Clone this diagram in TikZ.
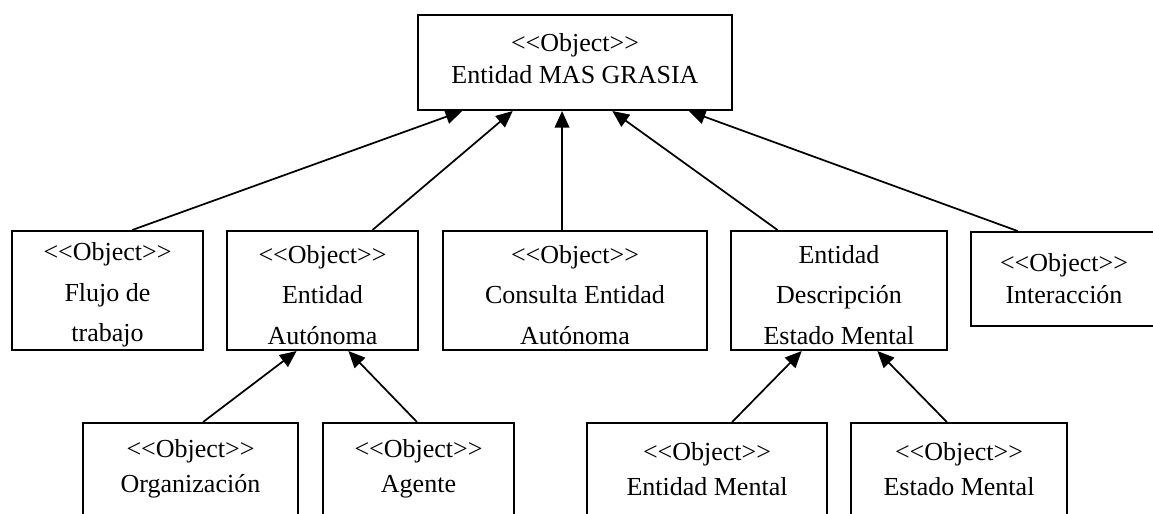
\documentclass[tikz,border=0pt]{standalone}
\usepackage{fontspec}
\setmainfont{Liberation Serif}
\usetikzlibrary{calc,arrows.meta}
\begin{document}
\begin{tikzpicture}[x=0.75pt,y=-0.75pt,
  box/.style={draw, line width=1.5pt, fill=white, align=center, inner sep=0pt},
  txt/.style={font=\fontsize{19.5}{#1}\selectfont},
  gen/.style={line width=1.3pt, -{Triangle[length=12.5pt,width=11pt]}}]
\path[use as bounding box, clip] (0,0) rectangle (1153,514);

% top class
\node[box, txt=24, minimum width=235.5pt, minimum height=71.25pt] (top) at (575,62.5)
  {<{}<Object>{}>\\Entidad MAS GRASIA\rule[-6pt]{0pt}{0pt}};

% second row
\node[box, txt=30.5, minimum width=143.25pt, minimum height=89.25pt] (flujo) at (107.5,290.5)
  {\rule{0pt}{20pt}<{}<Object>{}>\\Flujo de\\trabajo};
\node[box, txt=30.5, minimum width=143.25pt, minimum height=89.25pt] (auto) at (322.5,290.5)
  {\rule{0pt}{20pt}<{}<Object>{}>\\Entidad\\Autónoma};
\node[box, txt=30.5, minimum width=198pt, minimum height=89.25pt] (consulta) at (575,290.5)
  {\rule{0pt}{20pt}<{}<Object>{}>\\Consulta Entidad\\Autónoma};
\node[box, txt=30.5, minimum width=162pt, minimum height=89.25pt] (desc) at (839,290.5)
  {\rule{0pt}{20pt}Entidad\\Descripción\\Estado Mental};
\node[box, txt=24, minimum width=139.5pt, minimum height=70.5pt] (inter) at (1064,279)
  {<{}<Object>{}>\\Interacción};

% third row
\node[box, txt=26, minimum width=161.25pt, minimum height=69pt] (org) at (190.5,469)
  {<{}<Object>{}>\\Organización};
\node[box, txt=26, minimum width=143.25pt, minimum height=69pt] (agente) at (418.5,469)
  {<{}<Object>{}>\\Agente};
\node[box, txt=26, minimum width=180pt, minimum height=69pt] (ementa) at (707,469)
  {<{}<Object>{}>\\Entidad Mental};
\node[box, txt=26, minimum width=162pt, minimum height=69pt] (estado) at (959,469)
  {<{}<Object>{}>\\Estado Mental};

% generalisations to the top class
\draw[gen] ($(flujo.north west)!0.628!(flujo.north east)$) -- ($(top.south west)!0.143!(top.south east)$);
\draw[gen] ($(auto.north west)!0.759!(auto.north east)$) -- ($(top.south west)!0.303!(top.south east)$);
\draw[gen] ($(consulta.north west)!0.451!(consulta.north east)$) -- ($(top.south west)!0.459!(top.south east)$);
\draw[gen] ($(desc.north west)!0.218!(desc.north east)$) -- ($(top.south west)!0.618!(top.south east)$);
\draw[gen] ($(inter.north west)!0.253!(inter.north east)$) -- ($(top.south west)!0.860!(top.south east)$);

% generalisations to the second row
\draw[gen] ($(org.north west)!0.558!(org.north east)$) -- ($(auto.south west)!0.366!(auto.south east)$);
\draw[gen] ($(agente.north west)!0.492!(agente.north east)$) -- ($(auto.south west)!0.634!(auto.south east)$);
\draw[gen] ($(ementa.north west)!0.604!(ementa.north east)$) -- ($(desc.south west)!0.329!(desc.south east)$);
\draw[gen] ($(estado.north west)!0.444!(estado.north east)$) -- ($(desc.south west)!0.676!(desc.south east)$);
\end{tikzpicture}
\end{document}
